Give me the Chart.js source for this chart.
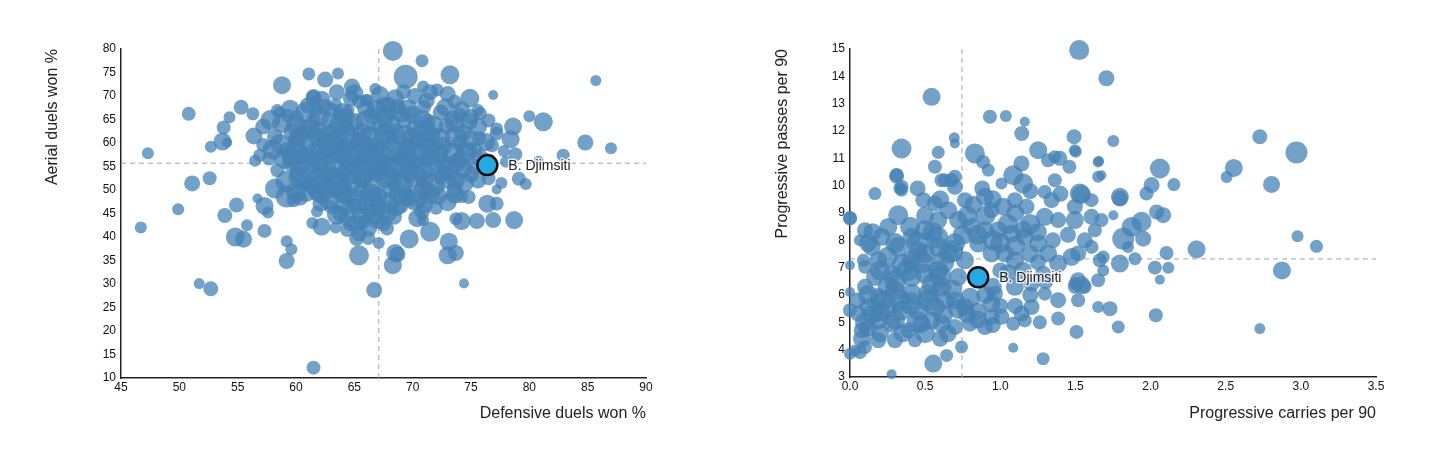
<!DOCTYPE html>
<html><head><meta charset="utf-8">
<script src="https://cdn.jsdelivr.net/npm/chart.js@4.4.1/dist/chart.umd.min.js"></script>
<style>
html,body{margin:0;padding:0;background:#fff;}
#wrap{position:relative;width:1456px;height:451px;overflow:hidden;}
canvas{position:absolute;top:0;}
</style>
</head><body>
<div id="wrap">
<canvas id="c1" width="728" height="451" style="left:0"></canvas>
<canvas id="c2" width="728" height="451" style="left:728px"></canvas>
</div>
<script>
// ---------- DATA ----------
const playerName = 'B. Djimsiti';

// Left chart: Defensive duels won % (x) vs Aerial duels won % (y), bubble radius
const leftXTitle = 'Defensive duels won %';
const leftYTitle = 'Aerial duels won %';
const leftXRange = [45, 90, 5];
const leftYRange = [10, 80, 5];
const leftAvgX = 67.1;
const leftAvgY = 55.7;
const leftPlayer = [76.4, 55.3];
const leftPoints = [
 [46.7,42.0,6],[47.3,57.8,6],[50.8,66.2,7],[49.9,45.9,6],[51.1,51.4,8],[52.6,52.5,7],[52.7,59.2,6],[51.7,30.1,5.5],[52.7,29.0,7.5],
 [53.7,60.3,9],[54.1,60.1,5],[53.8,63.3,7],[54.3,65.5,6],[55.3,67.6,7.5],[56.3,66.2,6.5],[56.4,61.5,8.5],[56.5,56.2,6],[53.9,44.6,7.5],
 [54.9,46.8,7.5],[54.8,40.0,9.5],[55.5,39.5,8.5],[55.8,42.5,6],[56.7,48.2,5],[57.3,46.6,9],[57.6,45.2,6],[57.3,41.3,7],[59.2,39.1,6],
 [59.6,37.4,6],[59.2,34.9,8],[58.8,72.3,9],[61.1,74.7,6.5],[62.5,73.5,8],[63.6,74.8,6],[61.5,69.5,8],[58.4,66.9,6.5],[61.5,12.2,7],
 [66.7,28.7,8],[68.3,79.6,10],[69.4,74.1,12],[70.8,77.5,6.5],[65.4,36.1,10],[68.3,34.0,9],[68.7,36.3,8],[69.7,39.6,9.5],[67.1,38.7,6],
 [62.2,42.2,9],[61.4,43.0,6],[61.8,45.4,6],[65.2,39.7,7.5],[67.2,45.4,6],[67.8,41.8,7],
 [73.2,74.5,9.5],[74.9,69.5,9.5],[76.9,70.2,5],[80.0,65.7,6],[81.2,64.5,9.5],[85.7,73.3,5.5],[84.8,60.1,8],[87.0,58.9,6],[82.9,57.4,6.5],
 [78.6,63.5,9],[78.4,60.8,9],[77.2,63.0,6.5],[75.8,66.3,6.5],[80.8,56.2,5],[79.1,52.4,7],[79.7,51.3,6],[77.2,50.1,5],[74.2,48.6,6.5],
 [76.4,47.1,9],[77.2,47.1,7],[78.7,43.6,9],[76.9,43.6,8],[75.5,43.4,8],[74.2,43.4,9],[73.7,43.9,6.5],[70.9,43.6,6],[71.5,41.1,10],
 [73.1,39.0,9],[73.0,36.1,9],[73.7,36.6,8],[68.5,36.6,9],[74.4,30.1,5],[78.8,57.6,7],
 [64.8,72.0,8],[66.1,69.1,6.5],[61.5,69.9,7.5],[69.2,70.9,7.5],[70.9,72.0,6],[72.1,71.3,6.5],[67.9,68.1,8],[64.7,69.5,8],[63.4,68.1,6.5],
 [60.1,65.6,6.5],[66.8,71.5,6],[73.6,68.8,7],[71.2,69.0,8],[75.6,67.0,6],
 [62.4,67.7,8],[63.1,67.0,7],[63.8,65.9,7],[64.5,67.0,6],[65.4,68.8,7],[66.0,69.1,6],[67.5,68.1,8],[68.1,66.3,7],[68.7,67.7,8],[71.0,67.7,7],
 [61.8,67.0,6],[61.5,64.9,7],[57.8,64.9,10],[57.2,63.5,8],[59.3,65.8,7],[58.6,66.5,6],[70.0,66.0,9],[72.4,66.5,8],[74.0,66.0,7],[76.5,64.8,7],
 [69.3,64.8,8],[66.5,65.8,9],[65.0,64.5,9],[62.8,64.8,8],
 [58.2,61.3,8],[60.4,62.0,8],[60.8,63.5,7],[59.9,60.6,7],[61.7,61.5,9],[63.2,62.5,9],[64.4,63.0,8],[65.7,62.2,10],[67.2,63.4,9],[68.5,62.1,10],
 [70.2,63.0,9],[71.6,61.8,9],[72.9,63.6,8],[74.3,62.2,9],[75.7,61.0,7],[77.2,62.0,7],[73.4,65.2,8],[71.3,64.6,8],
 [57.2,59.6,7],[59.2,58.5,8],[61.0,59.4,9],[62.5,60.3,9],[64.0,59.0,10],[65.3,60.5,9],[66.8,59.2,10],[68.0,60.4,9],[69.5,59.0,10],[71.0,60.3,9],
 [72.5,59.2,10],[74.0,60.0,8],[75.3,58.5,8],[76.8,59.5,7],[77.8,58.3,6],
 [56.9,57.4,6.5],[57.7,56.7,7],[59.5,55.7,8],[60.6,57.3,9],[62.0,56.2,10],[63.4,57.5,9],[64.8,55.8,10],[66.1,57.0,9],[67.4,55.6,10],[68.8,57.2,10],
 [70.1,55.8,9],[71.5,57.0,10],[72.8,55.6,9],[74.2,56.8,9],[75.3,55.0,8],[78.0,56.0,6],
 [58.4,54.2,7],[60.1,53.5,8],[60.7,51.4,8],[61.5,54.0,9],[63.0,52.8,10],[64.3,54.3,9],[65.7,52.5,10],[67.0,53.8,10],[68.3,52.2,9],[69.7,53.6,10],
 [71.0,52.0,9],[72.4,53.4,10],[73.7,52.0,9],[75.0,53.3,8],[76.5,52.5,7],[77.6,51.5,6],
 [58.2,50.3,10],[59.2,48.6,11],[59.8,47.8,7],[60.4,48.2,7],[61.8,49.3,8],[63.1,50.2,9],[64.4,48.7,10],[65.7,50.0,9],[67.0,48.5,10],[68.2,50.1,9],
 [69.5,48.6,9],[70.9,50.0,10],[72.2,48.8,9],[73.6,50.2,8],[74.8,48.5,7],[61.2,51.4,7],
 [62.1,47.1,8],[63.0,46.4,7],[63.8,45.0,8],[65.0,46.5,9],[66.3,45.5,8],[67.0,47.1,8],[68.4,44.3,8],[69.0,46.4,7],[69.8,47.8,7],[70.8,45.5,8],
 [72.0,46.2,7],[66.7,44.3,8],[64.2,43.8,7],
 [64.7,42.9,8],[64.4,41.5,7],[65.4,40.8,8],[65.8,43.2,7],[67.5,42.9,8],[66.2,39.8,7],[63.4,42.0,6],
 [62.2,69.2,9],[65.0,70.6,9],[67.2,70.2,9],[70.2,70.0,8],[73.0,70.4,8],
 [59.5,67.3,9],[60.8,66.6,10],[64.0,66.4,10],[66.9,67.0,10],[69.6,67.2,10],[72.8,67.6,9],[75.0,65.6,8],
 [58.8,64.2,10],[61.2,63.0,10],[63.8,64.0,11],[66.0,64.6,11],[68.0,64.0,11],[70.8,65.0,10],[73.6,64.2,10],[75.6,63.4,9],
 [58.6,59.8,10],[60.2,61.0,10],[62.8,61.6,11],[64.6,61.2,11],[66.4,61.0,12],[69.3,61.5,11],[71.0,62.5,11],[73.7,61.3,11],[76.3,60.2,9],
 [58.0,58.6,10],[60.0,58.8,10],[62.2,58.6,11],[63.9,58.0,12],[66.0,58.6,12],[68.2,58.4,12],[70.3,58.8,12],[72.1,57.8,11],[74.6,58.2,10],
 [59.0,56.6,10],[61.0,55.4,11],[63.2,55.0,12],[65.8,55.6,12],[68.2,54.8,12],[70.7,54.6,12],[73.1,54.4,11],[74.4,54.6,9],
 [59.2,51.8,11],[62.0,52.0,12],[64.6,51.6,12],[66.6,51.0,12],[69.0,51.2,12],[71.7,51.0,12],[74.4,51.6,10],
 [60.8,49.8,11],[62.8,48.2,11],[65.2,47.8,11],[67.8,47.2,11],[70.2,48.0,11],[73.0,47.4,9],
 [63.5,44.8,10],[65.6,44.6,10],[67.8,45.2,10],[70.4,44.0,9],[66.2,42.0,9],
 [60.0,63.8,10],[62.0,65.6,10],[64.2,65.2,10],[67.6,65.6,10],[69.0,66.2,9],[71.8,63.6,10],[74.8,64.6,9],
 [59.8,62.2,10],[61.8,62.4,10],[63.6,60.6,11],[65.6,59.8,11],[67.6,61.8,11],[70.0,61.0,11],[72.3,60.8,11],[74.9,60.6,10],
 [59.6,57.2,10],[61.6,57.8,11],[62.9,59.3,11],[65.0,57.6,12],[67.2,57.4,12],[69.5,57.0,12],[71.3,58.9,11],[73.5,57.7,11],[75.7,57.0,9],
 [60.3,55.2,10],[62.6,54.0,11],[64.6,53.6,12],[66.8,55.2,12],[69.2,55.2,12],[71.6,55.6,12],[73.8,55.8,10],
 [60.2,52.6,10],[61.6,50.8,10],[63.6,51.2,12],[65.8,53.8,12],[67.8,52.8,12],[70.2,52.8,12],[72.8,52.6,11],[75.6,52.0,8],
 [60.0,49.6,10],[62.2,49.4,11],[64.0,49.6,11],[66.4,49.0,11],[68.9,49.4,11],[71.4,49.2,11],[73.6,49.0,9],
 [64.2,46.6,10],[66.0,46.8,10],[68.6,46.6,10],[71.0,47.0,9],[65.2,43.0,9],[67.0,43.6,9],
 [61.0,68.0,8],[63.5,70.8,8],[66.0,67.4,9],[68.5,69.5,9],[71.5,70.8,8],[74.2,67.2,8]
];

// Right chart: Progressive carries per 90 (x) vs Progressive passes per 90 (y)
const rightXTitle = 'Progressive carries per 90';
const rightYTitle = 'Progressive passes per 90';
const rightXRange = [0, 3.5, 0.5];
const rightYRange = [3, 15, 1];
const rightAvgX = 0.745;
const rightAvgY = 7.32;
const rightPlayer = [0.853, 6.65];
const rightPoints = [
 [1.525,14.96,10],[1.706,13.93,8],[0.543,13.25,9],[0.931,12.52,7],[1.037,12.55,6],[1.163,12.34,5],[1.143,11.91,7.5],[0.694,11.75,5.5],
 [0.698,11.54,5],[0.343,11.36,10],[0.587,11.22,6.5],[0.831,11.18,10],[1.252,11.30,9],[1.363,11.06,6.5],[1.396,11.0,7.5],[1.491,11.79,7.5],
 [1.502,11.24,6],[1.46,10.69,7],[1.657,10.9,5],[1.673,10.38,5],[1.54,9.68,9.5],[1.752,11.63,6],[0.31,10.35,7.5],[0.343,9.84,6.5],
 [0.166,9.71,6.5],[0.321,8.92,10],[0.0,8.82,7],[0.066,8.0,6],[0.089,7.27,6.5],[0.0,7.09,5],[0.0,6.11,5],[0.0,5.44,7],[0.0,3.85,6],
 [0.066,3.91,7],[0.277,3.1,5],[0.554,3.49,9],[0.643,3.79,6.5],[0.742,4.1,6.5],[1.086,4.07,5],[1.285,3.67,6.5],[1.507,4.65,7],
 [1.54,6.36,9],[1.496,6.42,6.5],
 [2.062,10.63,10],[2.007,10.02,8],[1.973,9.71,7],[2.155,10.04,6.5],[1.796,9.59,9],[1.796,9.53,8],[1.752,8.92,5],[2.04,9.04,7.5],
 [2.084,8.92,8],[1.874,8.49,10],[1.94,8.68,10],[1.951,8.06,8],[1.818,8.06,11],[1.85,7.76,6],[1.896,7.33,6.5],[1.796,7.15,9],
 [1.685,7.39,6.5],[1.685,6.9,6],[2.106,7.54,7],[2.029,7.0,7],[2.118,7.0,6],[2.062,6.56,5],[2.306,7.67,9],[2.506,10.32,6],[2.554,10.65,9],
 [2.727,11.79,7.5],[2.971,11.21,11],[2.805,10.04,8.5],[2.978,8.15,6],[3.104,7.78,6.5],[2.874,6.9,9],[2.727,4.77,5.5],[1.73,5.5,7.5],
 [1.785,4.83,6.5],[2.035,5.26,7],
 [0.886,10.87,7],[0.92,10.57,6.5],[1.008,10.08,6],[1.086,10.38,10],[1.152,10.08,10],[1.141,10.81,8],[1.318,10.93,7],[1.651,10.87,5.5],
 [1.529,9.71,10],[1.496,9.23,8],[1.341,9.47,8],[1.296,9.77,7],[1.363,10.2,7],[0.31,10.39,7],[0.332,9.9,6.5],[0.0,8.8,7],[0.488,9.47,8],
 [0.565,9.35,8],[0.609,10.2,7],[0.676,10.2,7],[0.698,9.96,8],[0.765,9.47,8],[0.897,9.59,9],[0.942,9.1,8],[1.019,9.23,9],[1.097,9.47,8],
 [1.174,9.23,8],[1.296,8.86,9],[1.385,8.74,8],[1.496,8.74,9],[1.607,8.86,8],[1.629,8.37,7],[1.562,8.0,8],[1.474,7.39,9],[1.518,7.52,8],
 [1.607,7.76,7],[1.662,7.27,7],[1.518,6.54,8],[1.496,6.3,7],[1.385,5.81,8],[1.296,6.05,7],[1.208,5.56,8],[1.141,5.32,8],[1.086,4.95,7],
 [1.008,5.2,8],[0.897,4.83,8],[0.942,5.2,8],[0.942,5.68,9],[0.964,6.05,8],[1.097,6.3,9],[1.208,6.42,8],[1.285,6.78,8],[1.385,7.15,9],
 [1.318,7.52,9],[1.197,7.52,9],[1.097,7.27,9],[1.03,7.52,9],[0.942,7.52,9],[0.853,7.88,9],[0.765,7.27,9],[0.72,6.66,9],[0.698,5.81,9],
 [0.765,5.56,9],[0.798,4.95,8],[0.698,4.83,8],[0.609,4.95,9],[0.543,5.07,9],[0.476,4.95,9],[0.388,4.71,8],[0.299,4.34,8],[0.188,4.34,8],
 [0.1,4.1,7],[0.033,3.97,6],[0.078,4.71,8],[0.055,5.32,8],[0.122,5.56,9],[0.188,5.93,9],[0.1,6.3,8],[0.166,6.66,9],[0.1,7.03,7],
 [0.188,7.27,9],[0.144,7.76,9],[0.21,8.13,9],[0.1,8.37,8],[0.255,8.49,9],[0.321,7.76,10],[0.41,8.13,9],[0.499,8.37,10],[0.587,8.74,9],
 [0.654,9.1,9],[0.72,8.74,9],[0.809,8.49,9],[0.897,8.37,9],[0.986,8.37,9],[1.075,8.25,9],[1.163,8.13,9],[1.252,7.88,9],[0.41,7.27,10],
 [0.499,7.52,10],[0.587,7.76,10],[0.654,7.52,10],[0.41,6.66,10],[0.499,6.78,10],[0.587,6.9,10],[0.277,6.78,9],[0.299,6.17,10],[0.41,6.05,10],
 [0.521,6.05,10],[0.609,6.3,10],[0.255,5.56,10],[0.343,5.44,10],[0.454,5.44,10],[0.565,5.56,10],[0.631,5.81,9],[0.188,5.07,9],[0.277,4.95,9],
 [0.432,4.34,7],[1.385,5.14,7],[1.263,5.0,7],[1.163,5.07,7],[1.518,5.81,7],[1.562,6.3,7],[1.651,6.54,7],[1.651,5.56,6],[1.673,8.74,7],
 [1.607,9.47,7],[1.651,10.33,6],[1.496,11.3,6],[0.343,9.96,7],[0.565,10.69,7],[0.631,10.2,7],[0.698,10.33,7],
 [0.15,5.3,10],[0.25,6.3,10],[0.35,7.1,11],[0.45,7.9,11],[0.55,8.3,10],[0.62,7.2,11],[0.7,7.9,10],[0.78,8.9,10],[0.9,8.9,10],[1.0,7.9,10],
 [1.1,7.8,10],[1.2,8.6,10],[1.15,6.9,9],[1.05,6.8,9],[0.95,6.3,9],[0.8,5.9,10],[0.68,6.2,10],[0.55,6.4,11],[0.45,5.0,11],[0.33,5.8,11],
 [0.22,5.8,10],[0.12,4.8,9],[0.35,4.6,9],[0.62,5.3,10],[0.78,5.3,9],[0.45,7.6,10],[0.25,7.4,10],[0.15,8.3,9],[0.05,5.8,8],[0.6,4.4,8],
 [0.85,5.4,9],[1.0,5.6,8],[1.25,7.2,8],[1.35,8.0,8],[1.45,8.2,8],[1.4,9.7,8],[0.88,9.9,8],[1.2,9.8,8],
 [0.1,5.0,10],[0.2,5.4,10],[0.3,6.5,11],[0.38,6.9,11],[0.48,7.2,11],[0.52,5.8,11],[0.6,6.7,11],[0.68,7.6,11],[0.58,8.1,11],[0.4,8.5,10],
 [0.3,7.9,10],[0.2,6.9,10],[0.12,6.0,10],[0.4,5.7,11],[0.5,4.6,10],[0.72,5.5,10],[0.65,4.6,9],[0.3,5.1,10],[0.2,4.6,9],[0.08,4.4,9],
 [0.85,8.2,10],[0.95,8.0,10],[1.05,8.6,10],[1.15,8.4,9],[1.25,8.3,9],[0.75,8.2,10],[0.82,9.3,9],[0.95,9.5,9],[1.1,9.0,9],
 [0.9,6.0,9],[0.85,5.1,9],[0.95,4.9,8],[1.1,5.6,8],[1.2,6.0,8],[1.3,6.5,8],[1.0,6.9,8],[0.6,9.5,9],[0.5,8.9,9],[0.45,9.9,8],[0.12,7.9,9]
];

// ---------- STYLE / HELPERS ----------
const bubbleColor = 'rgba(70,130,180,0.75)';
const hiColor = '#27aae1';
const fontFam = '"Liberation Sans", Arial, Helvetica, sans-serif';

function toBubbles(arr){ return arr.map(p => ({x:p[0], y:p[1], r:p[2]})); }

const refLines = {
  id:'refLines',
  beforeDatasetsDraw(chart, args, opts){
    const {ctx, chartArea:a, scales:{x, y}} = chart;
    ctx.save();
    ctx.strokeStyle = '#a6a6a6';
    ctx.lineWidth = 1;
    ctx.setLineDash([5,4]);
    const px = x.getPixelForValue(opts.vx);
    const py = y.getPixelForValue(opts.vy);
    ctx.beginPath(); ctx.moveTo(px, a.top); ctx.lineTo(px, a.bottom); ctx.stroke();
    ctx.beginPath(); ctx.moveTo(a.left, py); ctx.lineTo(a.right, py); ctx.stroke();
    ctx.restore();
  }
};
const playerLabel = {
  id:'playerLabel',
  afterDatasetsDraw(chart){
    const el = chart.getDatasetMeta(0).data[0];
    const ctx = chart.ctx;
    ctx.save();
    ctx.font = '14px ' + fontFam;
    ctx.textBaseline = 'middle';
    ctx.textAlign = 'left';
    ctx.lineWidth = 3; ctx.strokeStyle = 'rgba(255,255,255,0.75)';
    ctx.lineJoin = 'round';
    ctx.strokeText(playerName, el.x + 21, el.y + 1);
    ctx.fillStyle = '#222';
    ctx.fillText(playerName, el.x + 21, el.y + 1);
    ctx.restore();
  }
};

function makeChart(id, points, player, xr, yr, xt, yt, avgX, avgY, geo, xfmt){
  return new Chart(document.getElementById(id), {
    type:'bubble',
    data:{datasets:[
      {data:[{x:player[0], y:player[1], r:10}], backgroundColor:hiColor, borderColor:'#111', borderWidth:2.5, clip:false},
      {data:toBubbles(points), backgroundColor:bubbleColor, borderWidth:0, clip:false}
    ]},
    options:{
      responsive:false, animation:false, events:[],
      layout:{padding:{left:0, top:geo.top, right:geo.right, bottom:0}},
      plugins:{legend:{display:false}, tooltip:{enabled:false}, refLines:{vx:avgX, vy:avgY}},
      scales:{
        x:{type:'linear', min:xr[0], max:xr[1],
          grid:{display:false, drawTicks:false, tickLength:0},
          border:{display:true, color:'#222', width:1.5},
          ticks:{stepSize:xr[2], autoSkip:false, maxRotation:0, padding:2, color:'#111',
                 font:{family:fontFam, size:12}, callback:xfmt},
          title:{display:true, text:xt, align:'end', color:'#222', font:{family:fontFam, size:16}, padding:{top:0, bottom:28}},
          afterFit(s){ s.height = geo.xh; }
        },
        y:{type:'linear', min:yr[0], max:yr[1],
          grid:{display:false, drawTicks:false, tickLength:0},
          border:{display:true, color:'#222', width:1.5},
          ticks:{stepSize:yr[2], autoSkip:false, padding:5, color:'#111', font:{family:fontFam, size:12}},
          title:{display:true, text:yt, align:'end', color:'#222', font:{family:fontFam, size:16}, padding:{top:geo.ttl, bottom:0}},
          afterFit(s){ s.width = geo.yw; }
        }
      }
    },
    plugins:[refLines, playerLabel]
  });
}

makeChart('c1', leftPoints, leftPlayer, leftXRange, leftYRange, leftXTitle, leftYTitle, leftAvgX, leftAvgY,
  {top:49, right:82, xh:73, yw:121, ttl:43}, v => v);
makeChart('c2', rightPoints, rightPlayer, rightXRange, rightYRange, rightXTitle, rightYTitle, rightAvgX, rightAvgY,
  {top:49, right:80, xh:74, yw:122, ttl:45}, v => Number(v).toFixed(1));
</script>
</body></html>
